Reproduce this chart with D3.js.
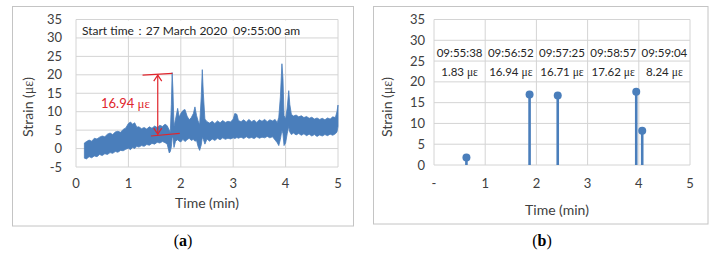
<!DOCTYPE html>
<html>
<head>
<meta charset="utf-8">
<script src="https://cdn.jsdelivr.net/npm/d3@7"></script>
<style>
  body { margin: 0; background: #fff; }
  text { font-family: Lato, "Open Sans", sans-serif; fill: #404040; }
</style>
</head>
<body>
<script>
// ---- data ----
// (a) strain signal, drawn as its noise envelope (time in min, low / high in με)
var sigT  = [0.16,0.20,0.25,0.30,0.35,0.40,0.45,0.50,0.55,0.60,0.65,0.70,0.75,0.80,0.85,0.90,0.95,1.00,1.04,1.08,1.12,1.16,1.20,1.25,1.30,1.35,1.40,1.45,1.50,1.55,1.60,1.65,1.70,1.74,1.78,1.80,1.82,1.835,1.85,1.87,1.90,1.94,1.97,2.00,2.04,2.08,2.12,2.16,2.20,2.24,2.27,2.30,2.33,2.36,2.39,2.41,2.43,2.46,2.50,2.55,2.60,2.65,2.70,2.75,2.80,2.85,2.90,2.95,3.00,3.03,3.07,3.10,3.15,3.20,3.25,3.30,3.35,3.40,3.45,3.50,3.55,3.60,3.65,3.70,3.75,3.80,3.84,3.87,3.90,3.93,3.95,3.97,4.00,4.03,4.06,4.08,4.11,4.15,4.20,4.25,4.30,4.35,4.40,4.45,4.50,4.55,4.60,4.65,4.70,4.75,4.80,4.85,4.90,4.95,4.98,5.00];
var sigLo = [-2.6,-2.8,-2.2,-2.5,-2.0,-2.2,-1.6,-1.9,-1.4,-1.6,-1.1,-1.3,-0.8,-1.0,-0.5,-0.6,-0.2,0.1,-0.3,0.3,0.0,0.6,0.4,0.8,0.6,1.1,0.9,1.4,1.2,1.7,1.5,1.9,1.6,1.2,-1.2,-0.8,0.5,3.0,3.0,0.3,2.0,2.4,2.0,1.8,2.5,1.9,2.4,2.8,2.2,2.5,2.0,2.2,0.5,-0.5,1.0,3.0,2.5,1.2,2.6,2.0,2.6,2.2,2.8,2.4,2.9,2.5,2.8,2.6,2.9,2.7,3.0,2.8,3.1,2.7,3.2,2.8,3.0,2.7,3.2,2.8,3.1,2.9,3.3,2.9,3.2,2.3,1.6,0.8,2.5,5.0,4.0,0.8,1.5,4.0,6.0,4.5,3.8,4.2,3.7,4.1,3.6,4.0,3.5,3.9,3.4,3.8,3.3,3.7,3.4,3.8,3.5,3.9,3.6,4.0,4.5,6.0];
var sigHi = [1.5,1.9,2.3,2.0,2.8,2.6,3.1,3.4,3.2,3.9,4.2,3.8,4.5,4.7,4.4,5.2,5.6,6.8,7.2,6.6,7.0,5.8,5.9,5.4,5.7,5.3,5.9,5.5,6.1,5.7,6.3,6.0,6.6,6.2,5.0,4.5,12,20.6,16,6.0,8.0,10.9,8.5,9.5,10.3,10.6,8.8,7.8,8.4,9.5,11.3,9.0,7.5,6.5,14,21.4,15,8.0,7.3,6.9,7.4,6.8,7.5,7.0,7.6,7.1,7.4,7.2,8.0,9.5,9.3,7.6,7.3,7.8,7.2,7.9,7.3,7.7,7.1,7.8,7.4,7.9,7.3,7.8,7.5,7.9,7.0,8.5,14,23,19,9.0,8.0,11,15.7,12,9.3,8.8,9.1,8.6,8.9,8.4,8.7,8.2,8.5,8.0,8.3,7.9,8.2,7.8,8.3,8.0,8.6,8.4,10,11.8];

// (b) peak events
var peakClock = ["09:55:38", "09:56:52", "09:57:25", "09:58:57", "09:59:04"];
var peakValue = [1.83, 16.94, 16.71, 17.62, 8.24];
var startClock = "09:55:00";

// axes
var ticksA = [-5, 0, 5, 10, 15, 20, 25, 30, 35];
var ticksB = [0, 5, 10, 15, 20, 25, 30, 35];
var timeTicks = [0, 1, 2, 3, 4, 5];

var blue = "#4a7ebb", grid = "#d4d4d4", red = "#e0262d";

function clockToMin(c) {
  var p = c.split(":").map(Number), s = startClock.split(":").map(Number);
  return ((p[0] - s[0]) * 3600 + (p[1] - s[1]) * 60 + (p[2] - s[2])) / 60;
}

var svg = d3.select("body").append("svg").attr("width", 720).attr("height", 255);

function strainTitle(g, x, y) {
  var t = g.append("text").attr("transform", "translate(" + x + "," + y + ") rotate(-90)")
    .attr("text-anchor", "middle").style("font-size", "14px");
  t.append("tspan").text("Strain (");
  t.append("tspan").style("font-family", "'Liberation Serif', serif").text("με");
  t.append("tspan").text(")");
}

function frame(x0, x1, y0, y1, yDomain, yTicks, xLabel0, tickGap) {
  var x = d3.scaleLinear().domain([0, 5]).range([x0, x1]);
  var y = d3.scaleLinear().domain(yDomain).range([y1, y0]);
  var g = svg.append("g");
  g.selectAll(".hg").data(yTicks).enter().append("line")
    .attr("x1", x0).attr("x2", x1).attr("y1", d => y(d)).attr("y2", d => y(d))
    .attr("stroke", grid).attr("stroke-width", 1);
  g.selectAll(".vg").data(timeTicks).enter().append("line")
    .attr("x1", d => x(d)).attr("x2", d => x(d)).attr("y1", y0).attr("y2", y1)
    .attr("stroke", grid).attr("stroke-width", 1);
  g.selectAll(".yt").data(yTicks).enter().append("text")
    .attr("x", x0 - tickGap).attr("y", d => y(d) + 4.5).attr("text-anchor", "end")
    .style("font-size", "13px").text(d => d);
  g.selectAll(".xt").data(timeTicks).enter().append("text")
    .attr("x", d => x(d)).attr("y", 188).attr("text-anchor", "middle")
    .style("font-size", "13px").text(d => (d === 0 ? xLabel0 : d));
  return {x: x, y: y, g: g};
}

// ---------- panel (a) ----------
svg.append("rect").attr("x", 12.5).attr("y", 6.5).attr("width", 341).attr("height", 219.5)
  .attr("fill", "none").attr("stroke", "#c4c4c4");
var A = frame(76, 338, 19.5, 167, [-5, 35], ticksA, "0", 14);

// white box behind the start-time note
A.g.append("rect").attr("x", 77).attr("y", 20.5).attr("width", 260).attr("height", 15.5).attr("fill", "#fff");
A.g.append("text").attr("x", 82).attr("y", 35).style("font-size", "12px").style("fill", "#262626")
  .text("Start time\uFF1A27 March 2020\u00A0\u00A009:55:00 am");

var sig = sigT.map((t, i) => ({t: t, lo: sigLo[i], hi: sigHi[i]}));
A.g.append("path").datum(sig)
  .attr("d", d3.area().x(d => A.x(d.t)).y0(d => A.y(d.lo)).y1(d => A.y(d.hi)))
  .attr("fill", blue).attr("stroke", blue).attr("stroke-width", 0.8);

// annotation of the 16.94 με jump
var ann = A.g.append("g").attr("stroke", red).attr("stroke-width", 1.2).attr("fill", "none");
ann.append("line").attr("x1", A.x(1.27)).attr("y1", A.y(19.9)).attr("x2", A.x(1.84)).attr("y2", A.y(20.4));
ann.append("line").attr("x1", A.x(1.43)).attr("y1", A.y(3.4)).attr("x2", A.x(1.98)).attr("y2", A.y(4.1));
var ax = A.x(1.56), ayT = A.y(19.9), ayB = A.y(3.9);
ann.append("line").attr("x1", ax).attr("y1", ayT).attr("x2", ax).attr("y2", ayB);
ann.append("path").attr("d", "M" + (ax - 4) + "," + (ayT + 6) + "L" + ax + "," + ayT + "L" + (ax + 4) + "," + (ayT + 6));
ann.append("path").attr("d", "M" + (ax - 4) + "," + (ayB - 6) + "L" + ax + "," + ayB + "L" + (ax + 4) + "," + (ayB - 6));
var at = A.g.append("text").attr("x", 150).attr("y", 108).attr("text-anchor", "end")
  .style("font-size", "13px").style("fill", red);
at.append("tspan").text(peakValue[1].toFixed(2) + " ");
at.append("tspan").style("font-family", "'Liberation Serif', serif").style("fill", red).text("με");

strainTitle(svg, 33, 107);
svg.append("text").attr("x", 207).attr("y", 208).attr("text-anchor", "middle")
  .style("font-size", "14px").text("Time (min)");

// ---------- panel (b) ----------
svg.append("rect").attr("x", 373.5).attr("y", 6.5).attr("width", 334.5).attr("height", 217.5)
  .attr("fill", "none").attr("stroke", "#c4c4c4");
var B = frame(434, 690, 19.5, 165, [0, 35], ticksB, "-", 9);

var pk = peakClock.map((c, i) => ({t: clockToMin(c), v: peakValue[i], c: c}));
B.g.selectAll(".stem").data(pk).enter().append("line")
  .attr("x1", d => B.x(d.t)).attr("x2", d => B.x(d.t))
  .attr("y1", B.y(0)).attr("y2", d => B.y(d.v))
  .attr("stroke", blue).attr("stroke-width", 2.6);
B.g.selectAll(".mk").data(pk).enter().append("circle")
  .attr("cx", d => B.x(d.t)).attr("cy", d => B.y(d.v)).attr("r", 4)
  .attr("fill", blue);

// table of peak times and values, one cell per minute
B.g.selectAll(".clk").data(pk).enter().append("text")
  .attr("x", (d, i) => B.x(i + 0.5)).attr("y", 57).attr("text-anchor", "middle")
  .style("font-size", "11.5px").style("fill", "#262626").text(d => d.c);
var vt = B.g.selectAll(".val").data(pk).enter().append("text")
  .attr("x", (d, i) => B.x(i + 0.5)).attr("y", 76).attr("text-anchor", "middle")
  .style("font-size", "11.5px").style("fill", "#262626");
vt.append("tspan").text(d => d.v.toFixed(2) + " ");
vt.append("tspan").style("font-family", "'Liberation Serif', serif").style("fill", "#262626").text("με");

strainTitle(svg, 392, 107);
svg.append("text").attr("x", 557).attr("y", 215).attr("text-anchor", "middle")
  .style("font-size", "14px").text("Time (min)");

// panel captions
[["a", 183], ["b", 542]].forEach(function (c) {
  var t = svg.append("text").attr("x", c[1]).attr("y", 246).attr("text-anchor", "middle")
    .style("font-family", "'Liberation Serif', serif").style("font-size", "16px").style("fill", "#000");
  t.append("tspan").style("font-family", "'Liberation Serif', serif").text("(");
  t.append("tspan").style("font-family", "'Liberation Serif', serif").style("font-weight", "bold").text(c[0]);
  t.append("tspan").style("font-family", "'Liberation Serif', serif").text(")");
});
</script>
</body>
</html>
